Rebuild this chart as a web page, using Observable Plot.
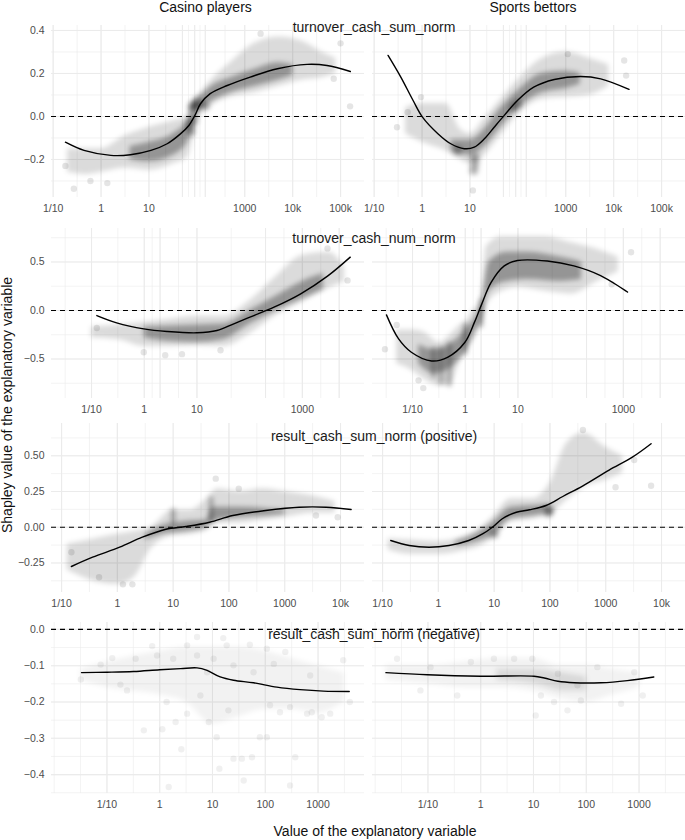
<!DOCTYPE html>
<html><head><meta charset="utf-8">
<script src="https://cdn.jsdelivr.net/npm/d3@7"></script>
<script src="https://cdn.jsdelivr.net/npm/@observablehq/plot@0.6"></script>
<style>
body{margin:0;background:#fff;}
#fig{position:relative;width:685px;height:840px;overflow:hidden;background:#fff;font-family:"Liberation Sans",Arial,Helvetica,sans-serif;}
.t{position:absolute;white-space:nowrap;font-size:14px;line-height:1;color:#111;}
.panel{position:absolute;}
</style></head>
<body><div id="fig"></div>
<script>
// ---------------- DATA ----------------
const columnTitles = ["Casino players", "Sports bettors"];
const variableTitles = ["turnover_cash_sum_norm", "turnover_cash_num_norm", "result_cash_sum_norm (positive)", "result_cash_sum_norm (negative)"];
const axisTitleY = "Shapley value of the explanatory variable";
const axisTitleX = "Value of the explanatory variable";

const xTicksRow1 = [0.1, 1, 10, 50, 90, 150, 1000, 10000, 100000];
const xLabelsRow1 = ["1/10", "1", "10", "50", "90", "150", "1000", "10k", "100k"];
const xTicksRow2 = [0.1, 1, 2, 10, 200, 1000, 5000];
const xLabelsRow2 = ["1/10", "1", "2", "10", "200", "1000", "5000"];
const xTicksRow3 = [0.1, 1, 10, 100, 1000, 10000];
const xLabelsRow3 = ["1/10", "1", "10", "100", "1000", "10k"];
const xTicksRow4 = [0.1, 1, 10, 100, 1000];
const xLabelsRow4 = ["1/10", "1", "10", "100", "1000"];

const yTicksRow1 = [-0.2, 0, 0.2, 0.4];
const yTicksRow2 = [-0.5, 0, 0.5];
const yTicksRow3 = [-0.25, 0, 0.25, 0.5];
const yTicksRow4 = [-0.4, -0.3, -0.2, -0.1, 0];

// Row 1: turnover_cash_sum_norm
const casinoSumCurve = [[0.18,-0.12],[0.44,-0.158],[1.6,-0.181],[4.1,-0.178],[11,-0.158],[24,-0.127],[46,-0.08],[68,-0.042],[91,0.005],[119,0.059],[190,0.106],[430,0.144],[1300,0.183],[4800,0.222],[20000,0.242],[52000,0.237],[160000,0.209]];
const casinoSumCloud = [[0.2,-0.26,-0.15],[0.5,-0.27,-0.15],[1,-0.26,-0.15],[3.16,-0.24,-0.09],[10,-0.25,-0.05],[32,-0.22,-0.02],[63,-0.19,0.0],[79,-0.12,0.07],[100,-0.02,0.09],[200,0.05,0.17],[500,0.09,0.25],[1600,0.11,0.34],[5000,0.14,0.37],[16000,0.17,0.35],[40000,0.18,0.3],[80000,0.2,0.27]];
const casinoSumCore = [[4,-0.2,-0.14],[10,-0.21,-0.12],[32,-0.18,-0.08],[63,-0.12,-0.02],[89,-0.02,0.08],[126,0.04,0.1],[200,0.07,0.14],[500,0.11,0.18],[1600,0.14,0.22],[5000,0.17,0.25],[10000,0.19,0.24]];
const casinoSumDense = [[93,0.05],[110,0.06],[150,0.05],[80,0.045],[70,-0.04],[75,-0.07],[85,-0.02]];
const casinoSumDots = [[0.27,-0.336],[0.18,-0.23],[0.6,-0.3],[1.35,-0.31],[158000,0.047],[100000,0.34],[2140,0.385],[72000,0.175]];

const sportsSumCurve = [[0.195,0.284],[0.36,0.183],[0.65,0.074],[1.02,-0.003],[2.14,-0.08],[3.98,-0.127],[7.6,-0.15],[12.3,-0.143],[20,-0.104],[32,-0.05],[52,0.005],[98,0.074],[214,0.136],[575,0.172],[2040,0.186],[5370,0.175],[20900,0.126]];
const sportsSumCloud = [[0.45,-0.08,0.04],[1,-0.12,0.06],[3.16,-0.16,0.06],[6.3,-0.2,-0.06],[10,-0.22,-0.08],[20,-0.18,-0.01],[40,-0.1,0.07],[100,0.01,0.17],[316,0.08,0.27],[1000,0.09,0.3],[3160,0.1,0.27],[7900,0.14,0.24]];
const sportsSumCore = [[4,-0.16,-0.11],[10,-0.18,-0.11],[20,-0.14,-0.06],[40,-0.06,0.03],[100,0.04,0.12],[316,0.11,0.2],[1000,0.13,0.21],[2000,0.15,0.2]];
const sportsSumDense = [[12,-0.251],[12.6,-0.22],[12.6,-0.19],[5.5,-0.158],[100,0.059],[80,0.04]];
const sportsSumDots = [[0.95,0.09],[11.5,-0.344],[16600,0.26],[18200,0.19],[1100,0.29],[0.5,0.02],[0.3,-0.05]];

// Row 2: turnover_cash_num_norm
const casinoNumCurve = [[0.126,-0.052],[0.3,-0.127],[0.98,-0.189],[2.7,-0.216],[10,-0.23],[24,-0.206],[50,-0.137],[120,-0.052],[290,0.034],[930,0.172],[3000,0.354],[8100,0.55]];
const casinoNumCloud = [[0.1,-0.28,-0.17],[0.32,-0.3,-0.15],[1,-0.37,-0.12],[3.16,-0.37,-0.09],[10,-0.36,-0.06],[32,-0.37,-0.06],[100,-0.24,0.1],[316,-0.05,0.35],[1000,0.09,0.57],[3160,0.23,0.6],[6300,0.3,0.45]];
const casinoNumCore = [[1,-0.28,-0.17],[3.16,-0.32,-0.16],[10,-0.33,-0.15],[32,-0.3,-0.14],[100,-0.14,0.0],[316,0.0,0.15],[1000,0.12,0.3],[2500,0.22,0.38]];
const casinoNumDots = [[0.98,-0.43],[2.5,-0.46],[5.2,-0.45],[0.126,-0.18],[7200,0.31],[3000,0.64],[28,-0.41]];

const sportsNumCurve = [[0.032,-0.045],[0.054,-0.29],[0.095,-0.43],[0.23,-0.52],[0.47,-0.48],[0.98,-0.33],[1.5,-0.12],[2.0,0.05],[3.1,0.29],[5.5,0.46],[9.8,0.515],[36,0.51],[115,0.46],[370,0.36],[1200,0.19]];
const sportsNumCloud = [[0.05,-0.55,-0.2],[0.1,-0.62,-0.2],[0.16,-0.7,-0.22],[0.32,-0.77,-0.33],[0.5,-0.77,-0.26],[0.8,-0.52,-0.15],[1,-0.44,-0.12],[1.4,-0.2,0.0],[2,-0.15,0.1],[2.5,0.05,0.66],[5,0.2,0.76],[10,0.24,0.76],[32,0.2,0.76],[100,0.17,0.7],[316,0.3,0.63],[800,0.4,0.55]];
const sportsNumCore = [[0.13,-0.55,-0.35],[0.25,-0.65,-0.4],[0.5,-0.6,-0.35],[1,-0.42,-0.2],[2,-0.1,0.06],[2.8,0.2,0.5],[6.3,0.3,0.6],[16,0.32,0.6],[63,0.3,0.55],[160,0.32,0.5]];
const sportsNumStreaks = [[1,-0.44,-0.15],[2,-0.16,0.1],[0.5,-0.77,-0.35],[0.35,-0.75,-0.4],[0.25,-0.68,-0.4]];
const sportsNumDots = [[0.05,-0.15],[0.03,-0.4],[0.13,-0.72],[0.16,-0.8],[1400,0.6],[600,0.27]];

// Row 3: result_cash_sum_norm (positive)
const casinoPosCurve = [[0.15,-0.275],[0.36,-0.21],[1.1,-0.14],[2.8,-0.07],[7.4,-0.014],[17,0.005],[45,0.035],[117,0.082],[457,0.117],[1820,0.14],[5500,0.14],[15500,0.124]];
const casinoPosCloud = [[0.126,-0.3,-0.12],[0.4,-0.38,-0.08],[1,-0.4,-0.05],[2,-0.35,-0.03],[4,-0.15,0.0],[10,-0.06,0.12],[20,-0.05,0.12],[40,-0.02,0.2],[63,0.03,0.27],[160,0.03,0.25],[400,0.05,0.27],[1000,0.07,0.25],[3160,0.1,0.22],[8000,0.1,0.18]];
const casinoPosCore = [[3.16,-0.09,-0.05],[6.3,-0.05,0.01],[16,-0.03,0.04],[40,0.0,0.05],[50,0.04,0.14],[160,0.07,0.14],[500,0.08,0.13],[1000,0.09,0.12]];
const casinoPosStreaks = [[10,0.026,0.117],[48,0.04,0.2]];
const casinoPosDots = [[58,0.34],[1.26,-0.4],[1.86,-0.4],[0.47,-0.35],[0.15,-0.175],[3630,0.082],[8900,0.07],[150,0.27]];

const sportsPosCurve = [[0.14,-0.093],[0.3,-0.128],[0.68,-0.14],[1.55,-0.128],[3.5,-0.093],[6.2,-0.047],[9.3,0.0],[14,0.059],[25,0.105],[43,0.122],[85,0.152],[170,0.215],[390,0.29],[1150,0.4],[3000,0.49],[6500,0.584]];
const sportsPosCloud = [[0.126,-0.16,-0.08],[0.32,-0.19,-0.09],[1,-0.19,-0.1],[3.16,-0.16,-0.06],[5,-0.14,-0.02],[9.3,-0.08,0.07],[20,0.04,0.2],[50,0.06,0.2],[100,0.09,0.31],[200,0.19,0.59],[400,0.28,0.66],[1000,0.33,0.56],[2000,0.38,0.5]];
const sportsPosCore = [[2,-0.13,-0.1],[5,-0.1,-0.04],[10,-0.05,0.04],[20,0.06,0.14],[50,0.08,0.15],[100,0.1,0.16]];
const sportsPosDense = [[98,0.122],[10,-0.047],[95,0.1]];
const sportsPosDots = [[390,0.68],[6500,0.29],[1500,0.28],[3240,0.47]];

// Row 4: result_cash_sum_norm (negative)
const casinoNegCurve = [[0.033,-0.119],[0.1,-0.118],[0.32,-0.116],[1.0,-0.111],[2.5,-0.108],[5.1,-0.106],[7.9,-0.113],[14,-0.131],[25,-0.14],[60,-0.147],[166,-0.159],[457,-0.166],[1260,-0.17],[3900,-0.171]];
const casinoNegCloud = [[0.032,-0.14,-0.11],[0.1,-0.16,-0.09],[1,-0.18,-0.06],[3.16,-0.2,-0.05],[10,-0.26,-0.05],[32,-0.24,-0.05],[100,-0.22,-0.06],[316,-0.22,-0.08],[1000,-0.23,-0.1],[3160,-0.2,-0.12]];
const casinoNegDots = [[0.032,-0.138],[0.076,-0.097],[0.126,-0.079],[0.18,-0.152],[0.24,-0.168],[0.5,-0.278],[0.72,-0.046],[1.12,-0.275],[1.35,-0.2],[1.48,-0.434],[2.0,-0.255],[2.57,-0.33],[3.3,-0.232],[5.1,-0.021],[5.9,-0.182],[8.5,-0.255],[12,-0.297],[13.5,-0.384],[20,-0.223],[25,-0.356],[36,-0.356],[39,-0.416],[56,-0.352],[79,-0.297],[107,-0.297],[123,-0.209],[190,-0.228],[295,-0.214],[370,-0.352],[620,-0.232],[760,-0.228],[1170,-0.242],[1700,-0.232],[295,-0.43],[3000,-0.085],[4000,-0.2],[710,-0.127],[240,-0.062],[107,-0.053],[51,-0.042],[18.6,-0.044],[16,-0.024],[3.3,-0.044],[1.8,-0.081],[0.89,-0.072],[0.35,-0.081],[7.9,-0.118],[25,-0.099],[60,-0.118],[145,-0.095],[10.5,-0.081],[5.1,-0.072]];

const sportsNegCurve = [[0.016,-0.119],[0.098,-0.125],[1,-0.129],[10.2,-0.129],[16,-0.134],[29,-0.143],[59,-0.147],[190,-0.147],[600,-0.141],[1900,-0.131]];
const sportsNegCloud = [[0.016,-0.14,-0.1],[0.1,-0.15,-0.1],[0.5,-0.16,-0.09],[2,-0.16,-0.08],[10,-0.17,-0.08],[32,-0.19,-0.1],[100,-0.2,-0.1],[316,-0.18,-0.11],[1000,-0.16,-0.12]];
const sportsNegCore = [[2,-0.14,-0.11],[10,-0.15,-0.11],[40,-0.17,-0.12],[100,-0.17,-0.13]];
const sportsNegDots = [[0.026,-0.081],[0.072,-0.168],[0.112,-0.104],[0.36,-0.182],[0.65,-0.09],[1.78,-0.081],[4.3,-0.081],[9.5,-0.081],[13.8,-0.182],[24.5,-0.2],[44,-0.223],[79,-0.196],[162,-0.104],[457,-0.205],[813,-0.118],[1175,-0.182],[11,-0.237],[68,-0.154],[29,-0.122]];

// ---------------- CONFIG (built from the arrays above) ----------------
const rows = [
  {title: variableTitles[0], xTicks: xTicksRow1, xLabels: xLabelsRow1, yTicks: yTicksRow1, yFormat: ".1f",
   xDomain: [0.0923, 316000], yDomain: [-0.377, 0.423], top: 25, bottom: 197, titleY: 27,
   panels: [
     {curve: casinoSumCurve, cloud: casinoSumCloud, core: casinoSumCore, dense: casinoSumDense, dots: casinoSumDots},
     {curve: sportsSumCurve, cloud: sportsSumCloud, core: sportsSumCore, dense: sportsSumDense, dots: sportsSumDots}]},
  {title: variableTitles[1], xTicks: xTicksRow2, xLabels: xLabelsRow2, yTicks: yTicksRow2, yFormat: ".1f",
   xDomain: [0.0174, 15100], yDomain: [-0.907, 0.845], top: 228, bottom: 398, titleY: 238,
   panels: [
     {curve: casinoNumCurve, cloud: casinoNumCloud, core: casinoNumCore, dots: casinoNumDots},
     {curve: sportsNumCurve, cloud: sportsNumCloud, core: sportsNumCore, streaks: sportsNumStreaks, dots: sportsNumDots}]},
  {title: variableTitles[2], xTicks: xTicksRow3, xLabels: xLabelsRow3, yTicks: yTicksRow3, yFormat: ".2f",
   xDomain: [0.066, 26900], yDomain: [-0.457, 0.726], top: 423, bottom: 592, titleY: 436,
   panels: [
     {curve: casinoPosCurve, cloud: casinoPosCloud, core: casinoPosCore, streaks: casinoPosStreaks, dots: casinoPosDots},
     {curve: sportsPosCurve, cloud: sportsPosCloud, core: sportsPosCore, dense: sportsPosDense, dots: sportsPosDots}]},
  {title: variableTitles[3], xTicks: xTicksRow4, xLabels: xLabelsRow4, yTicks: yTicksRow4, yFormat: ".1f",
   xDomain: [0.0089, 7590], yDomain: [-0.452, 0.019], top: 622, bottom: 793, titleY: 634,
   panels: [
     {curve: casinoNegCurve, cloud: casinoNegCloud, dots: casinoNegDots, faint: true},
     {curve: sportsNegCurve, cloud: sportsNegCloud, core: sportsNegCore, dots: sportsNegDots, faint: true}]}
];

function minorBreaks(majors, lo, hi) {
  const b = majors.slice().sort((a, c) => a - c);
  const bd = b[1] - b[0];
  if (lo < b[0]) b.unshift(b[0] - bd);
  if (hi > b[b.length - 1]) b.push(b[b.length - 1] + bd);
  const out = [];
  for (let i = 0; i < b.length - 1; i++) out.push(b[i], (b[i] + b[i + 1]) / 2);
  out.push(b[b.length - 1]);
  return out.filter(v => v >= lo - 1e-9 && v <= hi + 1e-9);
}

const fig = document.getElementById("fig");
const FONT = '"Liberation Sans", Arial, Helvetica, sans-serif';
const GRID = "#ebebeb";
const SVGNS = "http://www.w3.org/2000/svg";
const X = d => d[0], Y = d => d[1], Y1 = d => d[1], Y2 = d => d[2];
let uid = 0;

function addText(txt, x, y, extra = {}) {
  const d = document.createElement("div");
  d.className = "t";
  d.textContent = txt;
  d.style.left = x + "px";
  d.style.top = y + "px";
  d.style.transform = "translate(-50%,-50%)" + (extra.rotate ? " rotate(-90deg)" : "");
  if (extra.color) d.style.color = extra.color;
  fig.appendChild(d);
}

rows.forEach(row => {
  const lx = Math.log10(row.xDomain[0]), hx = Math.log10(row.xDomain[1]);
  const minorX = minorBreaks(row.xTicks.map(Math.log10), lx, hx).map(v => Math.pow(10, v));
  const minorY = minorBreaks(row.yTicks, row.yDomain[0], row.yDomain[1]);
  const labelOf = new Map(row.xTicks.map((t, i) => [t, row.xLabels[i]]));
  const fmt = d3.format(row.yFormat);
  const h = row.bottom - row.top;
  row.panels.forEach((p, col) => {
    const isLeft = col === 0;
    const W = isLeft ? 364 : 321;
    const ml = isLeft ? 51 : 8;
    const hazeOuter = p.faint ? 0.05 : 0.14;
    const hazeCore = p.faint ? 0.1 : 0.32;
    const dotOp = p.faint ? 0.06 : 0.1;
    const cloudOpt = {ariaDescription: "cloud"};
    const marks = [
      Plot.ruleX(minorX, {stroke: GRID, strokeWidth: 0.6}),
      Plot.ruleY(minorY, {stroke: GRID, strokeWidth: 0.6}),
      Plot.ruleX(row.xTicks, {stroke: GRID, strokeWidth: 1.1}),
      Plot.ruleY(row.yTicks, {stroke: GRID, strokeWidth: 1.1}),
      Plot.areaY(p.cloud, {x: X, y1: Y1, y2: Y2, fill: "#000", fillOpacity: hazeOuter, curve: "monotone-x", ...cloudOpt}),
      p.core ? Plot.areaY(p.core, {x: X, y1: Y1, y2: Y2, fill: "#000", fillOpacity: hazeCore, curve: "monotone-x", ...cloudOpt}) : null,
      p.streaks ? Plot.ruleX(p.streaks, {x: X, y1: Y1, y2: Y2, stroke: "#000", strokeOpacity: 0.3, strokeWidth: 4, strokeLinecap: "round", ...cloudOpt}) : null,
      p.dense ? Plot.dot(p.dense, {x: X, y: Y, r: 4.5, fill: "#000", fillOpacity: 0.3, ...cloudOpt}) : null,
      Plot.dot(p.dots, {x: X, y: Y, r: 3.2, fill: "#000", fillOpacity: dotOp, clip: true}),
      Plot.ruleY([0], {stroke: "#000", strokeWidth: 1.1, strokeDasharray: "5,4"}),
      Plot.line(p.curve, {x: X, y: Y, stroke: "#000", strokeWidth: 1.4, curve: "catmull-rom"}),
      Plot.axisX(row.xTicks, {tickFormat: d => labelOf.get(d), tickSize: 0, tickPadding: 7, fontSize: 10.5, label: null}),
      isLeft ? Plot.axisY(row.yTicks, {tickFormat: fmt, tickSize: 0, tickPadding: 7, fontSize: 10.5, label: null}) : null
    ].filter(Boolean);
    const H = h + 24;
    const svg = Plot.plot({
      width: W, height: H,
      marginLeft: ml, marginRight: 0, marginTop: 0, marginBottom: 24,
      x: {type: "log", domain: row.xDomain},
      y: isLeft ? {domain: row.yDomain} : {domain: row.yDomain, axis: null},
      style: {background: "transparent", color: "#4d4d4d", fontFamily: FONT, fontSize: "10.5px", overflow: "visible"},
      marks
    });
    // soft edges for the point clouds (SVG blur filter over the cloud layers)
    const fid = "cloudblur" + (uid++);
    const defs = document.createElementNS(SVGNS, "defs");
    const filt = document.createElementNS(SVGNS, "filter");
    filt.setAttribute("id", fid);
    filt.setAttribute("filterUnits", "userSpaceOnUse");
    filt.setAttribute("x", "0"); filt.setAttribute("y", "0");
    filt.setAttribute("width", String(W)); filt.setAttribute("height", String(h));
    const gb = document.createElementNS(SVGNS, "feGaussianBlur");
    gb.setAttribute("stdDeviation", "2.6");
    filt.appendChild(gb);
    defs.appendChild(filt);
    svg.insertBefore(defs, svg.firstChild);
    svg.querySelectorAll('[aria-description="cloud"]').forEach(g => g.setAttribute("filter", `url(#${fid})`));
    const wrap = document.createElement("div");
    wrap.className = "panel";
    wrap.style.left = (isLeft ? 0 : 364) + "px";
    wrap.style.top = row.top + "px";
    wrap.appendChild(svg);
    fig.appendChild(wrap);
  });
  addText(row.title, 374, row.titleY, {color: "#1a1a1a"});
});

addText(columnTitles[0], 205.5, 7);
addText(columnTitles[1], 533, 7);
addText(axisTitleX, 375, 831);
addText(axisTitleY, 7, 405, {rotate: true});
</script>
</body></html>
